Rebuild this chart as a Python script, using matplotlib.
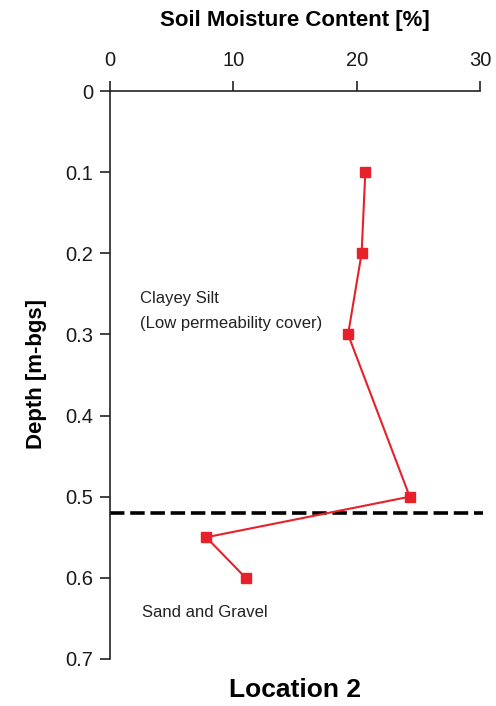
import matplotlib
matplotlib.use("Agg")
import matplotlib.pyplot as plt

plt.rcParams['font.family'] = ['Liberation Sans', 'DejaVu Sans']

# Soil moisture profile, Location 2
moisture = [20.7, 20.4, 19.3, 24.3, 7.8, 11.0]   # %
depth = [0.10, 0.20, 0.30, 0.50, 0.55, 0.60]      # m below ground surface
boundary_depth = 0.52
x_ticks = [0, 10, 20, 30]
y_ticks = [0, 0.1, 0.2, 0.3, 0.4, 0.5, 0.6, 0.7]
y_tick_labels = ["0", "0.1", "0.2", "0.3", "0.4", "0.5", "0.6", "0.7"]

fig = plt.figure(figsize=(4.96, 7.06), dpi=100)
ax = fig.add_axes([0.2218, 0.0666, 0.7460, 0.8045])

ax.plot(moisture, depth, color='#e8202a', lw=1.5, marker='s', ms=7,
        mec='#e8202a', mfc='#e8202a', zorder=3)
ax.axhline(boundary_depth, xmin=0, xmax=1.008, color='black', lw=2.6,
           ls=(0, (4, 1.6)), clip_on=False, zorder=2)

ax.set_xlim(0, 30)
ax.set_ylim(0.7, 0)
ax.xaxis.tick_top()
ax.set_xticks(x_ticks)
ax.set_yticks(y_ticks)
ax.set_yticklabels(y_tick_labels)
ax.tick_params(axis='both', direction='out', length=7, width=1.2,
               labelsize=14.5, labelcolor='#1a1a1a', color='#222222')
ax.tick_params(axis='x', pad=8)
ax.tick_params(axis='y', pad=5)

for side in ('right', 'bottom'):
    ax.spines[side].set_visible(False)
for side in ('left', 'top'):
    ax.spines[side].set_linewidth(1.2)
    ax.spines[side].set_color('#222222')

ax.text(2.4, 0.256, "Clayey Silt", fontsize=12, color='#222222', va='center')
ax.text(2.4, 0.287, "(Low permeability cover)", fontsize=12, color='#222222',
        va='center')
ax.text(2.6, 0.643, "Sand and Gravel", fontsize=12, color='#222222',
        va='center')

fig.text(0.595, 0.971, "Soil Moisture Content [%]", fontsize=16,
         fontweight='bold', ha='center', va='center')
fig.text(0.595, 0.022, "Location 2", fontsize=19, fontweight='bold',
         ha='center', va='center')
fig.text(0.074, 0.47, "Depth [m-bgs]", fontsize=16, fontweight='bold',
         rotation=90, ha='center', va='center')

fig.savefig("out.png", dpi=100)
